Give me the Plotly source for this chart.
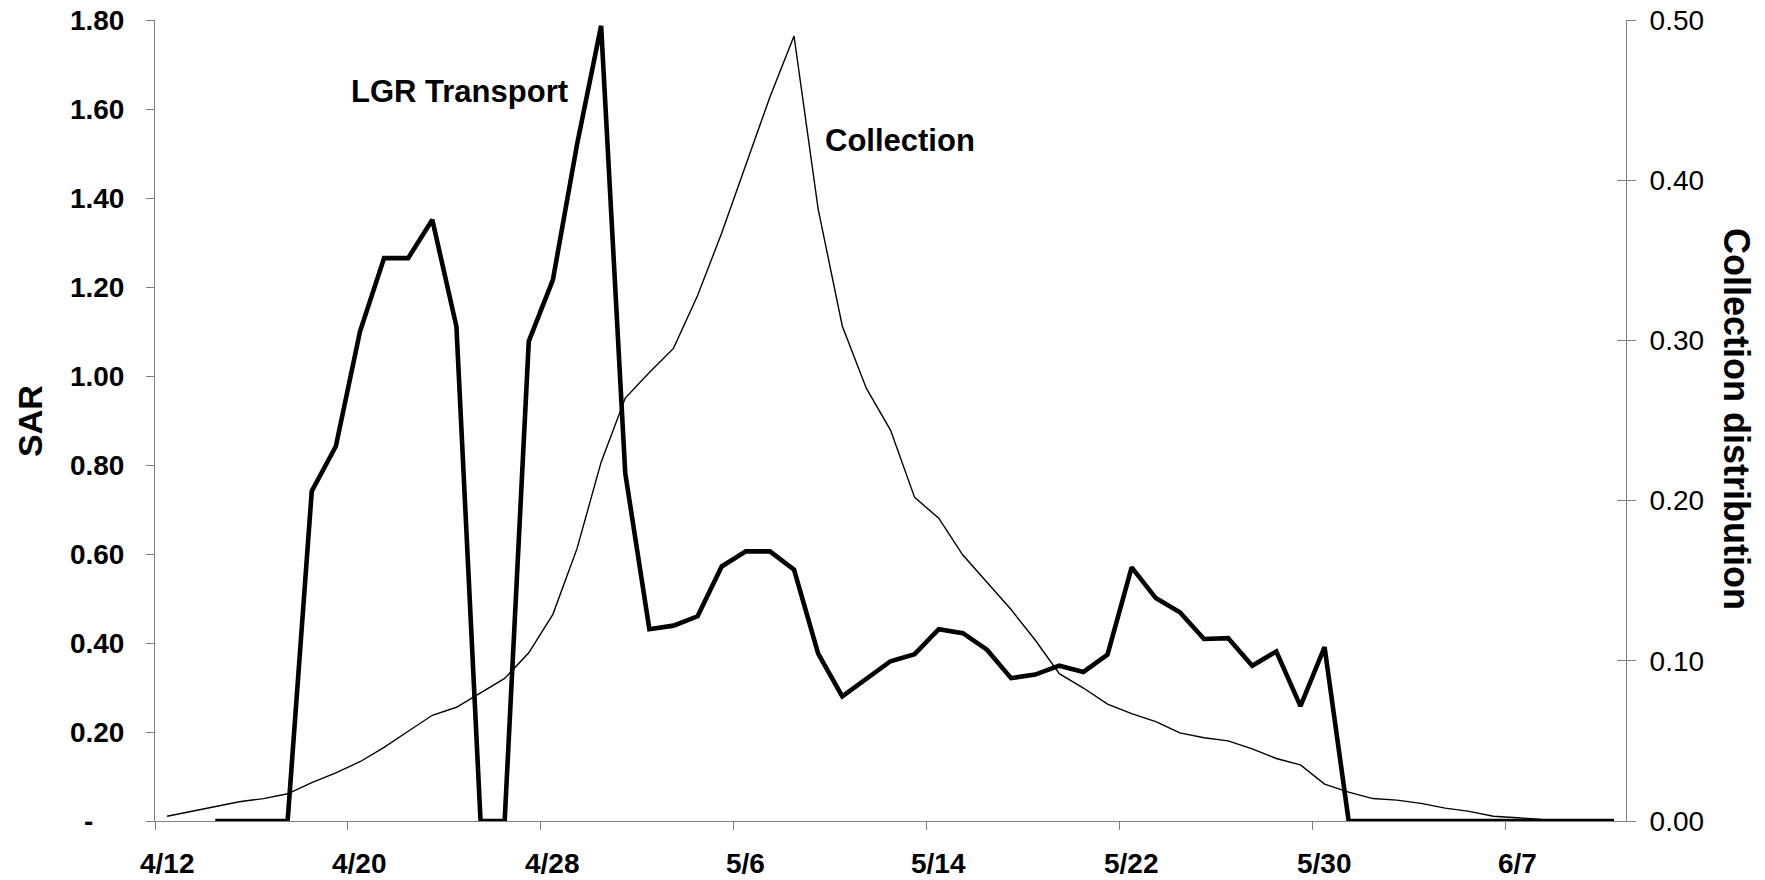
import pandas as pd
import plotly.graph_objects as go

# Categories: daily dates 4/12 .. 6/11
dates = pd.date_range("2002-04-12", "2002-06-11", freq="D")
day_index = list(range(len(dates)))

# SAR (LGR Transport), left axis; None = no data
sar = [None, None, 0, 0, 0, 0, 0.741, 0.842, 1.100, 1.265,
       1.265, 1.351, 1.111, 0, 0, 1.078, 1.216, 1.52, 1.787, 0.782,
       0.431, 0.439, 0.460, 0.572, 0.606, 0.606, 0.565, 0.376, 0.280, 0.319,
       0.359, 0.375, 0.431, 0.422, 0.385, 0.321, 0.329, 0.349, 0.335, 0.374,
       0.570, 0.501, 0.469, 0.409, 0.411, 0.349, 0.381, 0.258, 0.391, 0,
       0, 0, 0, 0, 0, 0, 0, 0, 0, 0, 0]

# Collection distribution, right axis
collection = [0.003, 0.006, 0.009, 0.012, 0.014, 0.017, 0.024, 0.030, 0.037, 0.046,
              0.056, 0.066, 0.071, 0.080, 0.089, 0.105, 0.129, 0.170, 0.224, 0.264,
              0.280, 0.295, 0.328, 0.367, 0.409, 0.452, 0.490, 0.382, 0.309, 0.270,
              0.244, 0.202, 0.189, 0.166, 0.149, 0.132, 0.113, 0.092, 0.083, 0.073,
              0.067, 0.062, 0.055, 0.052, 0.050, 0.045, 0.039, 0.035, 0.023, 0.018,
              0.014, 0.013, 0.011, 0.008, 0.006, 0.003, 0.002, 0.001, 0.0005, 0.0003,
              0.0002]

x_tick_labels = ["4/12", "4/20", "4/28", "5/6", "5/14", "5/22", "5/30", "6/7"]
x_tick_days = [0, 8, 16, 24, 32, 40, 48, 56]
sar_ticks = [0, 0.2, 0.4, 0.6, 0.8, 1.0, 1.2, 1.4, 1.6, 1.8]
sar_tick_text = ["-\u00a0\u00a0\u00a0\u00a0"] + [f"{v:.2f}" for v in sar_ticks[1:]]
coll_ticks = [0, 0.1, 0.2, 0.3, 0.4, 0.5]
coll_tick_text = [f"{v:.2f}" for v in coll_ticks]

FONT = "Liberation Sans, Arial, sans-serif"
AXIS_GRAY = "#808080"

W, H = 1765, 880
L, R, T, B = 155, 139, 20, 59
pw, ph = W - L - R, H - T - B


def px_to_paper(xp, yp):
    return (xp - L) / pw, (H - B - yp) / ph


fig = go.Figure()
fig.add_trace(go.Scatter(x=day_index, y=collection, mode="lines", yaxis="y2",
                         line=dict(color="black", width=1.4), name="Collection",
                         showlegend=False))
fig.add_trace(go.Scatter(x=day_index, y=sar, mode="lines", yaxis="y",
                         line=dict(color="black", width=4.6), name="LGR Transport",
                         showlegend=False, connectgaps=False))
# helper trace so the inner right-axis ticks render
fig.add_trace(go.Scatter(x=day_index, y=collection, mode="lines", yaxis="y3",
                         line=dict(color="rgba(0,0,0,0)", width=0), hoverinfo="skip",
                         showlegend=False))

annotations = []
for d, lab in zip(x_tick_days, x_tick_labels):
    annotations.append(dict(x=d, y=-0.053, xref="x", yref="paper", text=lab,
                            showarrow=False, xanchor="center", yanchor="middle",
                            font=dict(family=FONT, size=28, color="black", weight="bold")))
sx, sy = px_to_paper(30, 421)
cx, cy = px_to_paper(1737, 419)
annotations += [
    dict(x=12.14, y=1.639, xref="x", yref="y", text="LGR Transport", showarrow=False,
         xanchor="center", yanchor="middle",
         font=dict(family=FONT, size=31, color="black", weight="bold")),
    dict(x=30.38, y=1.529, xref="x", yref="y", text="Collection", showarrow=False,
         xanchor="center", yanchor="middle",
         font=dict(family=FONT, size=31, color="black", weight="bold")),
    dict(x=sx, y=sy, xref="paper", yref="paper", text="SAR", showarrow=False,
         textangle=-90, xanchor="center", yanchor="middle",
         font=dict(family=FONT, size=34, color="black", weight="bold")),
    dict(x=cx, y=cy, xref="paper", yref="paper", text="Collection distribution",
         showarrow=False, textangle=90, xanchor="center", yanchor="middle",
         font=dict(family=FONT, size=36, color="black", weight="bold")),
]

fig.update_layout(
    width=W, height=H,
    margin=dict(l=L, r=R, t=T, b=B, autoexpand=False),
    paper_bgcolor="white", plot_bgcolor="white",
    showlegend=False,
    xaxis=dict(range=[-0.5, 60.5], showgrid=False, zeroline=False, automargin=False,
               showline=True, linecolor=AXIS_GRAY, linewidth=1,
               ticks="outside", ticklen=8, tickcolor=AXIS_GRAY, tickwidth=1,
               tickvals=[d - 0.5 for d in x_tick_days], showticklabels=False),
    yaxis=dict(range=[0, 1.8], showgrid=False, zeroline=False, automargin=False,
               showline=True, linecolor=AXIS_GRAY, linewidth=1,
               ticks="outside", ticklen=8, tickcolor=AXIS_GRAY, tickwidth=1,
               tickvals=sar_ticks, ticktext=sar_tick_text, ticklabelstandoff=16,
               tickfont=dict(family=FONT, size=28, color="black", weight="bold")),
    yaxis2=dict(range=[0, 0.5], overlaying="y", side="right", anchor="x",
                showgrid=False, zeroline=False, automargin=False,
                showline=True, linecolor=AXIS_GRAY, linewidth=1,
                ticks="outside", ticklen=9, tickcolor=AXIS_GRAY, tickwidth=1,
                tickvals=coll_ticks, ticktext=coll_tick_text, ticklabelstandoff=8,
                tickfont=dict(family=FONT, size=28, color="black")),
    yaxis3=dict(range=[0, 0.5], overlaying="y", side="right", anchor="x",
                showgrid=False, zeroline=False, showline=False, automargin=False,
                ticks="inside", ticklen=9, tickcolor=AXIS_GRAY, tickwidth=1,
                tickvals=coll_ticks, showticklabels=False),
    annotations=annotations,
)

fig.write_html("out.html", config={"displayModeBar": False},
               post_script="document.body.style.margin='0px';document.body.style.overflow='hidden';")
